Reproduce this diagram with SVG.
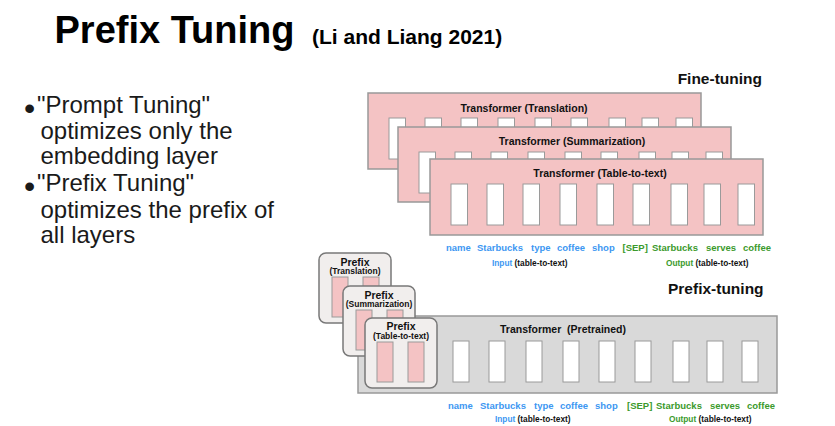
<svg xmlns="http://www.w3.org/2000/svg" width="835" height="426" viewBox="0 0 835 426">
<style>
text{font-family:"Liberation Sans",Arial,sans-serif}
.b{font-weight:bold}
.tb{fill:#f4c3c4;stroke:#999;stroke-width:1.5}
.cell{fill:#fff;stroke:#9a9a9a;stroke-width:1}
.gb{fill:#d9d9d9;stroke:#999;stroke-width:1.5}
.pb{fill:#f1eeed;stroke:#787878;stroke-width:1.5}
.pc{fill:#f4c3c4;stroke:#9a9a9a;stroke-width:1}
.tt{font-size:10.5px;font-weight:bold;fill:#111;text-anchor:middle;white-space:pre}
.pt{font-size:10.5px;font-weight:bold;fill:#111;text-anchor:middle}
.ps{font-size:8.5px;font-weight:bold;fill:#111;text-anchor:middle}
.tok{font-size:9.5px;font-weight:bold}
.blue{fill:#3d97f2}
.green{fill:#3b9a2c}
.sm{font-size:8.3px;font-weight:bold;fill:#111}
.hd{font-size:15.5px;font-weight:bold;fill:#111}
.bl{font-size:24px;fill:#1a1a1a}
.dot{font-size:32px;fill:#1a1a1a}
</style>

<g id="title">
<text x="54.5" y="43" class="b" font-size="38" fill="#000">Prefix Tuning</text>
<text x="312" y="44" class="b" font-size="21" fill="#000">(Li and Liang 2021)</text>
</g>

<g id="bullets">
<text x="24" y="118.5" class="dot">•</text>
<text x="37" y="112.7" class="bl">"Prompt Tuning"</text>
<text x="40.5" y="138.5" class="bl">optimizes only the</text>
<text x="40.5" y="164" class="bl">embedding layer</text>
<text x="24" y="196.5" class="dot">•</text>
<text x="37" y="191" class="bl">"Prefix Tuning"</text>
<text x="40.5" y="217.5" class="bl">optimizes the prefix of</text>
<text x="40.5" y="243" class="bl">all layers</text>
</g>

<defs>
<g id="cells">
<rect x="21" y="25" width="16.5" height="41" class="cell"/>
<rect x="57" y="25" width="16.5" height="41" class="cell"/>
<rect x="93" y="25" width="16.5" height="41" class="cell"/>
<rect x="130" y="25" width="16.5" height="41" class="cell"/>
<rect x="167" y="25" width="16.5" height="41" class="cell"/>
<rect x="203" y="25" width="16.5" height="41" class="cell"/>
<rect x="241" y="25" width="16.5" height="41" class="cell"/>
<rect x="274" y="25" width="16.5" height="41" class="cell"/>
<rect x="308" y="25" width="16.5" height="41" class="cell"/>
</g>
</defs>

<text x="762" y="84" class="hd" text-anchor="end">Fine-tuning</text>

<g id="ft-translation">
<rect x="368" y="93" width="333" height="76" class="tb"/>
<use href="#cells" x="368" y="93"/>
<text x="524" y="111.5" class="tt">Transformer (Translation)</text>
</g>
<g id="ft-summarization">
<rect x="398" y="127" width="333" height="75" class="tb"/>
<use href="#cells" x="398" y="127"/>
<text x="572" y="144.5" class="tt">Transformer (Summarization)</text>
</g>
<g id="ft-table">
<rect x="430" y="159" width="333" height="76" class="tb"/>
<use href="#cells" x="430" y="159"/>
<text x="600" y="177" class="tt">Transformer (Table-to-text)</text>
</g>

<g id="ft-labels">
<text y="250.5" class="tok blue"><tspan x="446">name</tspan><tspan x="477">Starbucks</tspan><tspan x="531">type</tspan><tspan x="557">coffee</tspan><tspan x="592">shop</tspan></text>
<text y="250.5" class="tok green"><tspan x="622.5">[SEP]</tspan><tspan x="652">Starbucks</tspan><tspan x="706">serves</tspan><tspan x="743">coffee</tspan></text>
<text x="492" y="266" class="sm"><tspan class="blue">Input</tspan> (table-to-text)</text>
<text x="666" y="266" class="sm"><tspan class="green">Output</tspan> (table-to-text)</text>
</g>

<text x="668" y="294" class="hd">Prefix-tuning</text>

<g id="pt-transformer">
<rect x="358" y="316" width="419" height="77" class="gb"/>
<rect x="453" y="341" width="16" height="41" class="cell"/>
<rect x="489" y="341" width="16" height="41" class="cell"/>
<rect x="526" y="341" width="16" height="41" class="cell"/>
<rect x="563" y="341" width="16" height="41" class="cell"/>
<rect x="599" y="341" width="16" height="41" class="cell"/>
<rect x="635" y="341" width="16" height="41" class="cell"/>
<rect x="673" y="341" width="16" height="41" class="cell"/>
<rect x="707" y="341" width="16" height="41" class="cell"/>
<rect x="742" y="341" width="16" height="41" class="cell"/>
<text x="563" y="333" class="tt">Transformer  (Pretrained)</text>
</g>

<g id="prefix-translation">
<rect x="319" y="253" width="72" height="70" rx="7" class="pb"/>
<rect x="332" y="277" width="16" height="40" class="pc"/>
<rect x="363" y="277" width="16" height="40" class="pc"/>
<text x="355" y="265.5" class="pt">Prefix</text>
<text x="355" y="274" class="ps">(Translation)</text>
</g>
<g id="prefix-summarization">
<rect x="343" y="286" width="72" height="70" rx="7" class="pb"/>
<rect x="356" y="310" width="16" height="40" class="pc"/>
<rect x="387" y="310" width="16" height="40" class="pc"/>
<text x="379" y="298.5" class="pt">Prefix</text>
<text x="379" y="307" class="ps">(Summarization)</text>
</g>
<g id="prefix-table">
<rect x="365" y="318" width="72" height="70" rx="7" class="pb"/>
<rect x="377" y="342" width="16" height="40" class="pc"/>
<rect x="408" y="342" width="16" height="40" class="pc"/>
<text x="401" y="330" class="pt">Prefix</text>
<text x="401" y="338.5" class="ps">(Table-to-text)</text>
</g>

<g id="pt-labels">
<text y="409" class="tok blue"><tspan x="448">name</tspan><tspan x="480">Starbucks</tspan><tspan x="534">type</tspan><tspan x="560">coffee</tspan><tspan x="595">shop</tspan></text>
<text y="409" class="tok green"><tspan x="627">[SEP]</tspan><tspan x="656">Starbucks</tspan><tspan x="710">serves</tspan><tspan x="747">coffee</tspan></text>
<text x="495" y="422" class="sm"><tspan class="blue">Input</tspan> (table-to-text)</text>
<text x="669" y="422" class="sm"><tspan class="green">Output</tspan> (table-to-text)</text>
</g>

<g id="connectors"></g>
</svg>
